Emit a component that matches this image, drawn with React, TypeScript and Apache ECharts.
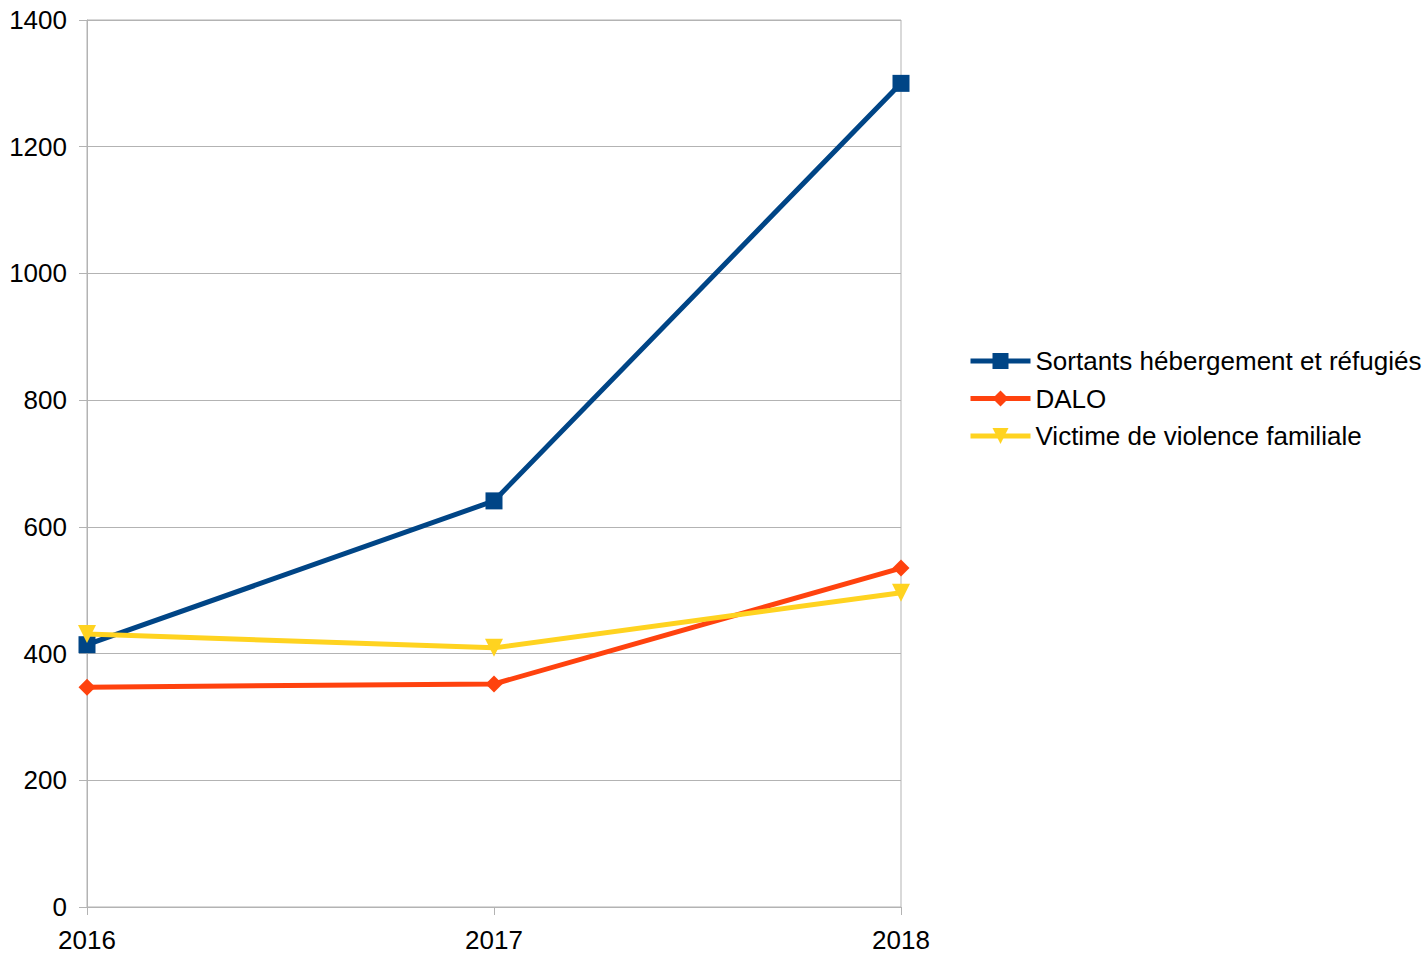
import React, { useEffect, useRef } from "react";
import * as echarts from "echarts";

const years = ["2016", "2017", "2018"];
const sortants = [414, 641, 1300];
const dalo = [347, 352, 535];
const victime = [431, 409, 496];
const seriesNames = ["Sortants hébergement et réfugiés", "DALO", "Victime de violence familiale"];

export default function App() {
  const ref = useRef<HTMLDivElement>(null);
  useEffect(() => {
    const chart = echarts.init(ref.current!, null, { renderer: "svg" });
    const axisFont = {
      fontFamily: "'Liberation Sans', Arial, sans-serif",
      fontSize: 26,
      color: "#000",
    };
    chart.setOption({
      animation: false,
      backgroundColor: "#fff",
      grid: {
        left: 87,
        right: 524,
        top: 20,
        bottom: 47,
        show: true,
        borderColor: "#b3b3b3",
        borderWidth: 1,
        containLabel: false,
        outerBoundsMode: "none",
      },
      legend: {
        orient: "vertical",
        left: 968,
        top: 348,
        padding: 0,
        itemWidth: 60,
        itemHeight: 20,
        itemGap: 11.5,
        data: seriesNames,
        lineStyle: { width: 5 },
        textStyle: {
          fontFamily: "'Liberation Sans', Arial, sans-serif",
          fontSize: 26,
          lineHeight: 26,
          color: "#000",
          padding: [0, 0, 0, 0],
        },
      },
      xAxis: {
        type: "category",
        data: years,
        boundaryGap: false,
        axisLine: { show: true, lineStyle: { color: "#b3b3b3", width: 1 } },
        axisTick: { show: true, length: 8, lineStyle: { color: "#b3b3b3" }, alignWithLabel: true },
        axisLabel: { ...axisFont, margin: 20 },
        splitLine: { show: false },
      },
      yAxis: {
        type: "value",
        min: 0,
        max: 1400,
        interval: 200,
        axisLine: { show: true, lineStyle: { color: "#b3b3b3", width: 1 } },
        axisTick: { show: true, length: 8, lineStyle: { color: "#b3b3b3" } },
        axisLabel: { ...axisFont, margin: 20, formatter: (v: number) => String(v) },
        splitLine: { show: true, lineStyle: { color: "#b3b3b3", width: 1 } },
      },
      series: [
        {
          name: seriesNames[0],
          type: "line",
          data: sortants,
          symbol: "rect",
          symbolSize: 17,
          lineStyle: { width: 5, color: "#004586" },
          itemStyle: { color: "#004586" },
          z: 3,
        },
        {
          name: seriesNames[1],
          type: "line",
          data: dalo,
          symbol: "diamond",
          symbolSize: 17,
          lineStyle: { width: 5, color: "#ff420e" },
          itemStyle: { color: "#ff420e" },
          z: 4,
        },
        {
          name: seriesNames[2],
          type: "line",
          data: victime,
          symbol: "triangle",
          symbolRotate: 180,
          symbolSize: 18,
          lineStyle: { width: 5, color: "#ffd320" },
          itemStyle: { color: "#ffd320" },
          z: 5,
        },
      ],
    });
    return () => chart.dispose();
  }, []);
  return (
    <div
      ref={ref}
      style={{ position: "fixed", left: 0, top: 0, width: 1425, height: 954 }}
    />
  );
}
